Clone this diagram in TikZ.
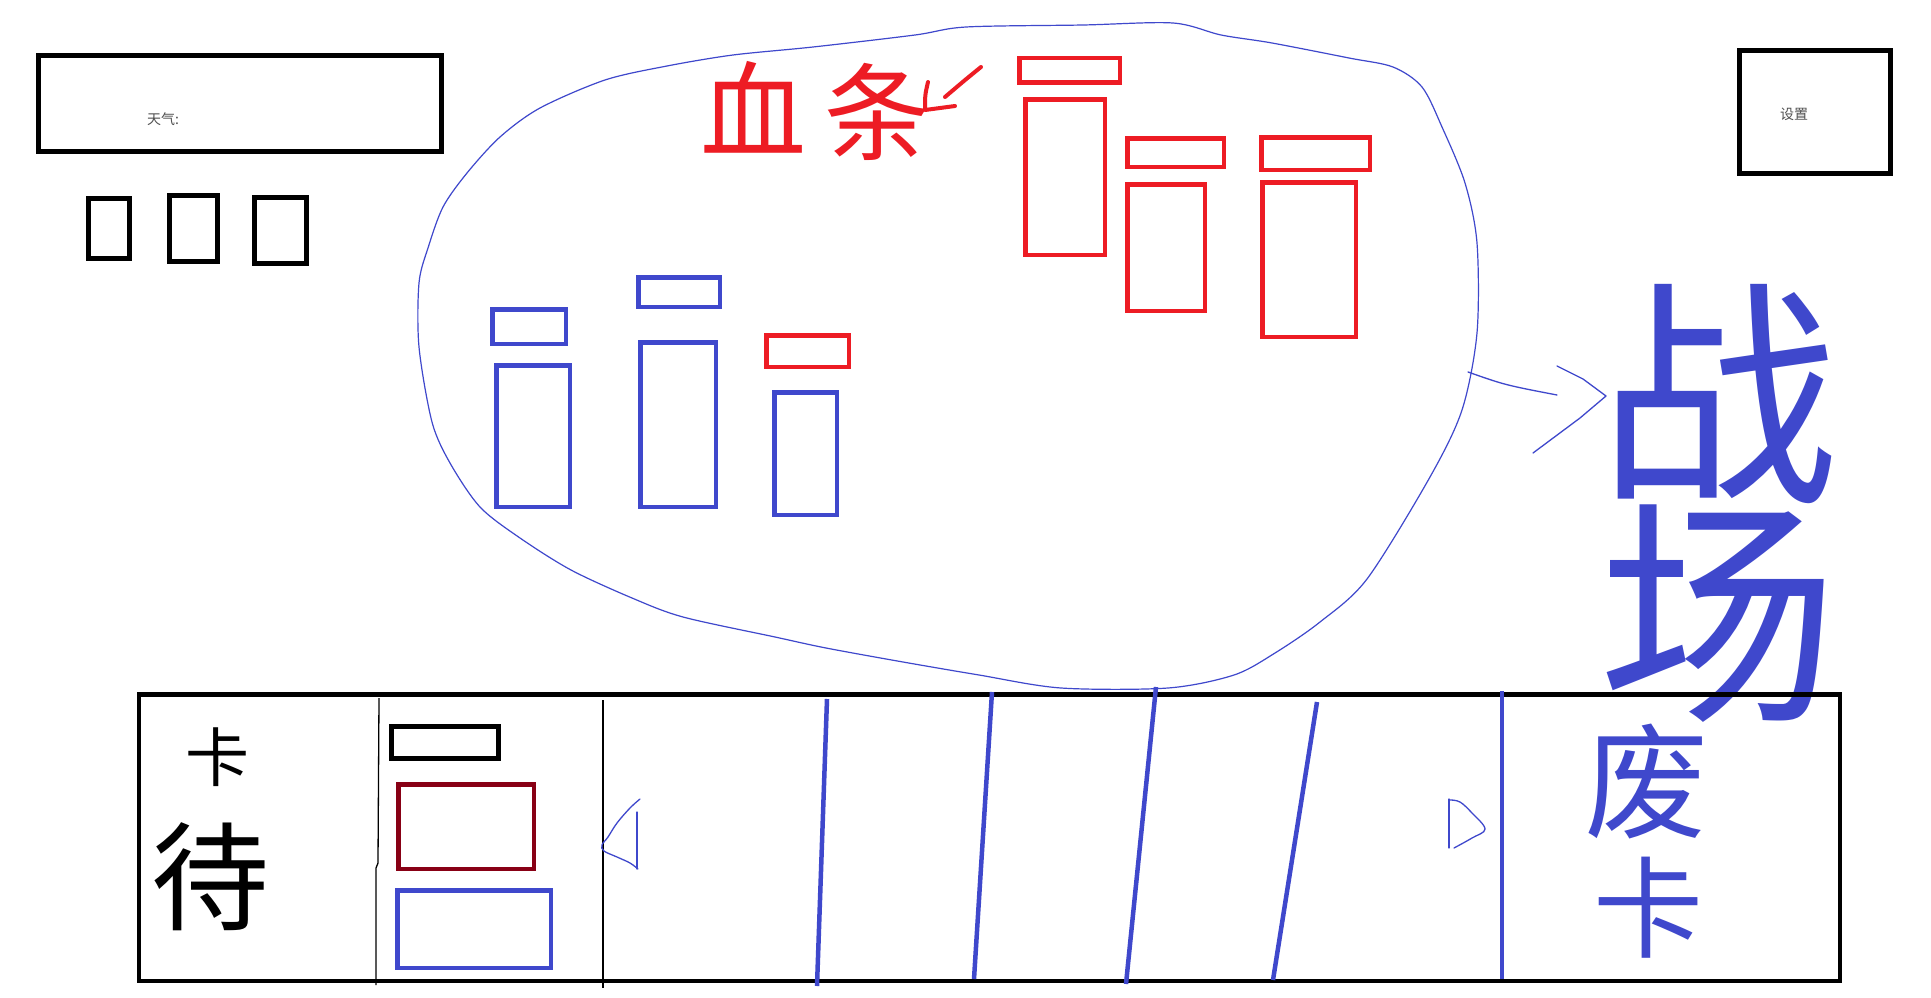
\documentclass[tikz,border=0pt]{standalone}
\usepackage{fontspec}
\newfontfamily\cjk{Noto Sans CJK SC}
\definecolor{pblue}{HTML}{3F48CC}
\definecolor{pred}{HTML}{ED1C24}
\definecolor{pdred}{HTML}{880015}
\definecolor{ptext}{HTML}{505050}
\tikzset{
  blk/.style={draw=black, line width=4.7pt, inner sep=0pt, outer sep=0pt},
  bbox/.style={draw=pblue, line width=4.5pt, inner sep=0pt, outer sep=0pt},
  rbox/.style={draw=pred, line width=4.5pt, inner sep=0pt, outer sep=0pt},
  dbox/.style={draw=pdred, line width=4.5pt, inner sep=0pt, outer sep=0pt},
  hw/.style={inner sep=0pt, font={\fontsize{#1}{#1}\selectfont\cjk}},
  thinblue/.style={draw=pblue, line width=1.3pt, line cap=round, line join=round},
  thinblack/.style={draw=black, line width=1.3pt},
  thickblue/.style={draw=pblue, line width=4.5pt},
  redpen/.style={draw=pred, line width=4pt, line cap=round, line join=round},
}
\begin{document}
\begin{tikzpicture}[x=1pt, y=-1pt]
\useasboundingbox[fill=white] (0,0) rectangle (1931,998);

% --- top left: weather box and three small boxes
\node[blk, minimum width=403.5pt, minimum height=96.5pt] (weather) at (240,103.5) {};
\node[inner sep=0pt, anchor=west, text=ptext, font={\fontsize{14}{14}\selectfont\cjk}] (weathertxt) at (147,119) {天气:};
\node[blk, minimum width=41.5pt, minimum height=60.5pt] (sq1) at (109,228.5) {};
\node[blk, minimum width=48.5pt, minimum height=66.5pt] (sq2) at (193.5,228.5) {};
\node[blk, minimum width=52.5pt, minimum height=66.5pt] (sq3) at (280.5,230.5) {};

% --- settings box
\node[blk, minimum width=151.5pt, minimum height=123.5pt] (settings) at (1815,112) {};
\node[inner sep=0pt, text=ptext, font={\fontsize{14}{14}\selectfont\cjk}] (settingstxt) at (1794,114) {设置};

% --- blob (battlefield outline)
\draw[pblue, line width=1.2pt] plot[smooth cycle, tension=0.5] coordinates {
 (428,248) (443,207) (467,173) (500,137) (540,108) (605,80) (667,66) (733,55)
 (813,47) (915,35) (966,27) (1083,25) (1173,23) (1221,35) (1272,43) (1349,58)
 (1393,67) (1422,87) (1442,127) (1465,183) (1477,243) (1477,333) (1462,410)
 (1430,477) (1367,579) (1320,622) (1275,653) (1234,675) (1168,688) (1061,688)
 (979,675) (903,662) (826,648) (775,637) (683,617) (632,598) (571,570) (520,538)
 (480,507) (450,463) (432,422) (419,347) (419,283)};

% --- blue cards
\node[bbox, minimum width=73.5pt, minimum height=34.5pt] (b1t) at (529,326.5) {};
\node[bbox, minimum width=73.5pt, minimum height=141.5pt] (b1b) at (533,436) {};
\node[bbox, minimum width=81.5pt, minimum height=29.5pt] (b2t) at (679,292) {};
\node[bbox, minimum width=75.5pt, minimum height=164.5pt] (b2b) at (678,424.5) {};
\node[rbox, minimum width=82.5pt, minimum height=31.5pt] (b3t) at (807.5,351) {};
\node[bbox, minimum width=62.5pt, minimum height=122.5pt] (b3b) at (805.5,453.5) {};

% --- red cards
\node[rbox, minimum width=100.5pt, minimum height=24.5pt] (r1t) at (1069.5,70.5) {};
\node[rbox, minimum width=79.5pt, minimum height=155.5pt] (r1b) at (1065,177) {};
\node[rbox, minimum width=96.5pt, minimum height=28.5pt] (r2t) at (1175.5,152.5) {};
\node[rbox, minimum width=77.5pt, minimum height=126.5pt] (r2b) at (1166,247.5) {};
\node[rbox, minimum width=108.5pt, minimum height=32.5pt] (r3t) at (1315.5,153.5) {};
\node[rbox, minimum width=93.5pt, minimum height=154.5pt] (r3b) at (1309,259.5) {};

% --- red label and pointer
\node[hw=106, text=pred] (xue) at (753,107) {血};
\node[hw=106, text=pred] (tiao) at (877,112) {条};
\coordinate (pt0) at (981,67);
\coordinate (pt1) at (945,97);
\draw[redpen] (pt0) .. controls (965,80) .. (pt1);
\draw[redpen] (928,82) .. controls (925,95) .. (925,110) -- (955,106);

% --- arrow to battlefield label
\coordinate (ar0) at (1468,372);
\coordinate (ar1) at (1557,395);
\draw[thinblue] (ar0) .. controls (1505,385) .. (ar1);
\draw[thinblue] (1557,366) -- (1583,379) -- (1606,396) -- (1580,418) -- (1533,453);
\node[inner sep=0pt, align=center, text=pblue, font={\fontsize{240}{216}\selectfont\cjk}] (zhanchang) at (1718,503) {战\\场};

% --- bottom panel (hand)
\node[blk, minimum width=1701pt, minimum height=286.5pt] (panel) at (989.5,837.75) {};
\node[hw=64, text=black] (ka) at (217,757) {卡};
\node[hw=118, text=black] (dai) at (210,877) {待};
\coordinate (d1a) at (379,698);
\coordinate (d1b) at (376,985);
\draw[thinblack] (d1a) -- (378,863) -- (376,868) -- (d1b);
\node[blk, minimum width=107.5pt, minimum height=32.5pt] (slotk) at (445,742.5) {};
\node[dbox, minimum width=135.5pt, minimum height=84.5pt] (slotr) at (466,826.5) {};
\node[bbox, minimum width=153.5pt, minimum height=77.5pt] (slotb) at (474,929) {};
\coordinate (d2a) at (603,700);
\coordinate (d2b) at (603,988);
\draw[thinblack] (d2a) -- (d2b);

% left arrow-ish mark
\draw[thinblue] plot[smooth, tension=0.6] coordinates {(640,799) (630,808) (617,823) (608,837) (602,845) (604,851) (617,857) (630,863) (638,869)};
\draw[thinblue] (637,812) -- (637,869);

% thick blue dividers
\coordinate (l1a) at (827,699); \coordinate (l1b) at (817,986);
\coordinate (l2a) at (992,692); \coordinate (l2b) at (974,979);
\coordinate (l3a) at (1156,687); \coordinate (l3b) at (1126,984);
\coordinate (l4a) at (1317,702); \coordinate (l4b) at (1273,980);
\coordinate (l5a) at (1502,691); \coordinate (l5b) at (1502,979);
\draw[thickblue] (l1a) -- (l1b);
\draw[thickblue] (l2a) -- (l2b);
\draw[thickblue] (l3a) -- (l3b);
\draw[thickblue] (l4a) -- (l4b);
\draw[thickblue] (l5a) -- (l5b);

% right D-shaped mark
\draw[thinblue] (1449,799) -- (1449,848);
\draw[thinblue] plot[smooth, tension=0.6] coordinates {(1450,800) (1460,802) (1472,813) (1485,829) (1472,838) (1454,848)};

% discard pile label
\node[hw=124, text=pblue] (fei) at (1646,781) {废};
\node[hw=110, text=pblue] (ka2) at (1648,908) {卡};
\end{tikzpicture}
\end{document}
